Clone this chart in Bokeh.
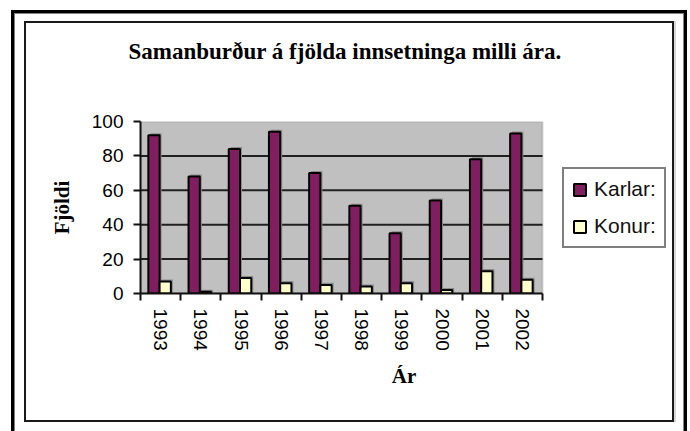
import numpy as np
from bokeh.plotting import figure
from bokeh.models import (Range1d, FixedTicker, ColumnDataSource, Legend,
                          LegendItem, Title, BoxAnnotation)
from bokeh.transform import dodge
from bokeh.embed import file_html
from bokeh.resources import INLINE

# ---- data -------------------------------------------------------------
years = ["1993", "1994", "1995", "1996", "1997",
         "1998", "1999", "2000", "2001", "2002"]
karlar = [92, 68, 84, 94, 70, 51, 35, 54, 78, 93]
konur = [7, 1, 9, 6, 5, 4, 6, 2, 13, 8]
y_ticks = [0, 20, 40, 60, 80, 100]
title_text = "Samanburður á fjölda innsetninga milli ára."
x_title = "Ár"
y_title = "Fjöldi"
series_names = ["Karlar:", "Konur:"]

# ---- styling / layout -------------------------------------------------
KARL = "#801F60"
KONA = "#FFFFCC"
SANS = "Liberation Sans"
SERIF = "Liberation Serif"

W, H = 646, 397
LEFT, RIGHT, TOP, BOTTOM = 114, 5, 98, 127
PLOT_W = 402                      # width of the grey plot area in px
FRAME_W = W - LEFT - RIGHT        # frame also holds the legend
n = len(years)
x_end = n * FRAME_W / PLOT_W

centers = (np.arange(n) + 0.5).tolist()
src = ColumnDataSource(dict(x=centers, karlar=karlar, konur=konur))

p = figure(width=W, height=H, output_backend="svg", toolbar_location=None,
           x_range=Range1d(0, x_end), y_range=Range1d(0, y_ticks[-1]),
           min_border_left=LEFT, min_border_right=RIGHT,
           min_border_top=TOP, min_border_bottom=BOTTOM,
           background_fill_color="white", border_fill_color="white",
           outline_line_color=None)
xa = p.below[0]
ya = p.left[0]

# window frame drawn around the chart element
p.styles = {
    "margin-left": "26px",
    "margin-top": "23px",
    "box-shadow": ("0 0 0 2px #1a1a1a, "
                   "2px 0 0 2px #d8d8d8, "
                   "0 2px 0 11px white, "
                   "0 2px 0 12px #808080, "
                   "0 2px 0 15px black"),
}

# blank spacer between plot area and title, then the title itself
p.add_layout(Title(text=" ", text_font_size="36px"), "above")
p.add_layout(Title(text=title_text, text_font=SERIF, text_font_style="bold",
                   text_font_size="23px", align="left", offset=-12,
                   text_color="black"), "above")

# grey plot area
p.add_layout(BoxAnnotation(left=0, right=n, bottom=0, top=y_ticks[-1],
                           fill_color="#C0C0C0", fill_alpha=1,
                           line_color="#808080", line_width=2,
                           level="underlay"))
# horizontal grid lines
p.segment(x0=0, x1=n, y0=y_ticks[1:-1], y1=y_ticks[1:-1],
          line_color="#202020", line_width=2)

bw = 0.28
off_k, off_f = -0.165, 0.115
sh_x, sh_y = 0.05, 1.2

# shadows
p.vbar(x=dodge("x", off_k + sh_x, range=p.x_range), top=dodge("karlar", sh_y), bottom=0,
       width=bw, source=src, fill_color="#8a8a8a", line_color=None)
p.vbar(x=dodge("x", off_f + sh_x, range=p.x_range), top=dodge("konur", sh_y), bottom=0,
       width=bw, source=src, fill_color="#8a8a8a", line_color=None)

rk = p.vbar(x=dodge("x", off_k, range=p.x_range), top="karlar", bottom=0, width=bw,
            source=src, fill_color=KARL, line_color="black", line_width=2)
rf = p.vbar(x=dodge("x", off_f, range=p.x_range), top="konur", bottom=0, width=bw,
            source=src, fill_color=KONA, line_color="black", line_width=2)

p.xgrid.visible = False
p.ygrid.visible = False

# y axis
ya.ticker = FixedTicker(ticks=y_ticks)
ya.major_tick_out = 7
ya.major_tick_in = 0
ya.minor_tick_line_color = None
ya.major_tick_line_width = 2
ya.axis_line_width = 2
ya.axis_line_color = "#111111"
ya.major_tick_line_color = "#111111"
ya.major_label_standoff = 10
ya.major_label_text_font = SANS
ya.major_label_text_font_size = "19px"
ya.major_label_text_color = "black"
ya.axis_label = y_title
ya.axis_label_text_font = SERIF
ya.axis_label_text_font_style = "bold"
ya.axis_label_text_font_size = "21px"
ya.axis_label_text_color = "black"
ya.axis_label_standoff = 15

# x axis
xa.bounds = (0, n)
xa.ticker = FixedTicker(ticks=centers, minor_ticks=list(range(n + 1)))
xa.major_label_overrides = {c: y for c, y in zip(centers, years)}
xa.major_tick_line_color = None
xa.major_tick_out = 0
xa.major_tick_in = 0
xa.minor_tick_out = 7
xa.minor_tick_in = 0
xa.minor_tick_line_width = 2
xa.minor_tick_line_color = "#111111"
xa.axis_line_width = 2
xa.axis_line_color = "#111111"
xa.major_label_orientation = "vertical"
xa.major_label_standoff = 8
xa.major_label_text_font = SANS
xa.major_label_text_font_size = "19px"
xa.major_label_text_color = "black"
xa.axis_label = x_title
xa.axis_label_text_font = SERIF
xa.axis_label_text_font_style = "bold"
xa.axis_label_text_font_size = "21px"
xa.axis_label_text_color = "black"
xa.axis_label_standoff = 10

# legend (inside the wide frame, right of the grey plot area)
legend = Legend(items=[LegendItem(label=series_names[0], renderers=[rk]),
                       LegendItem(label=series_names[1], renderers=[rf])],
                location=(PLOT_W + 20, 45), orientation="vertical",
                border_line_color="black", border_line_width=2,
                background_fill_color="white", background_fill_alpha=1,
                label_text_font=SANS, label_text_font_size="21px",
                label_text_color="#111111",
                glyph_width=15, glyph_height=15, label_height=24,
                label_standoff=7, padding=8, spacing=13, margin=0)
p.add_layout(legend, "center")

open("out.html", "w").write(file_html(p, INLINE))
